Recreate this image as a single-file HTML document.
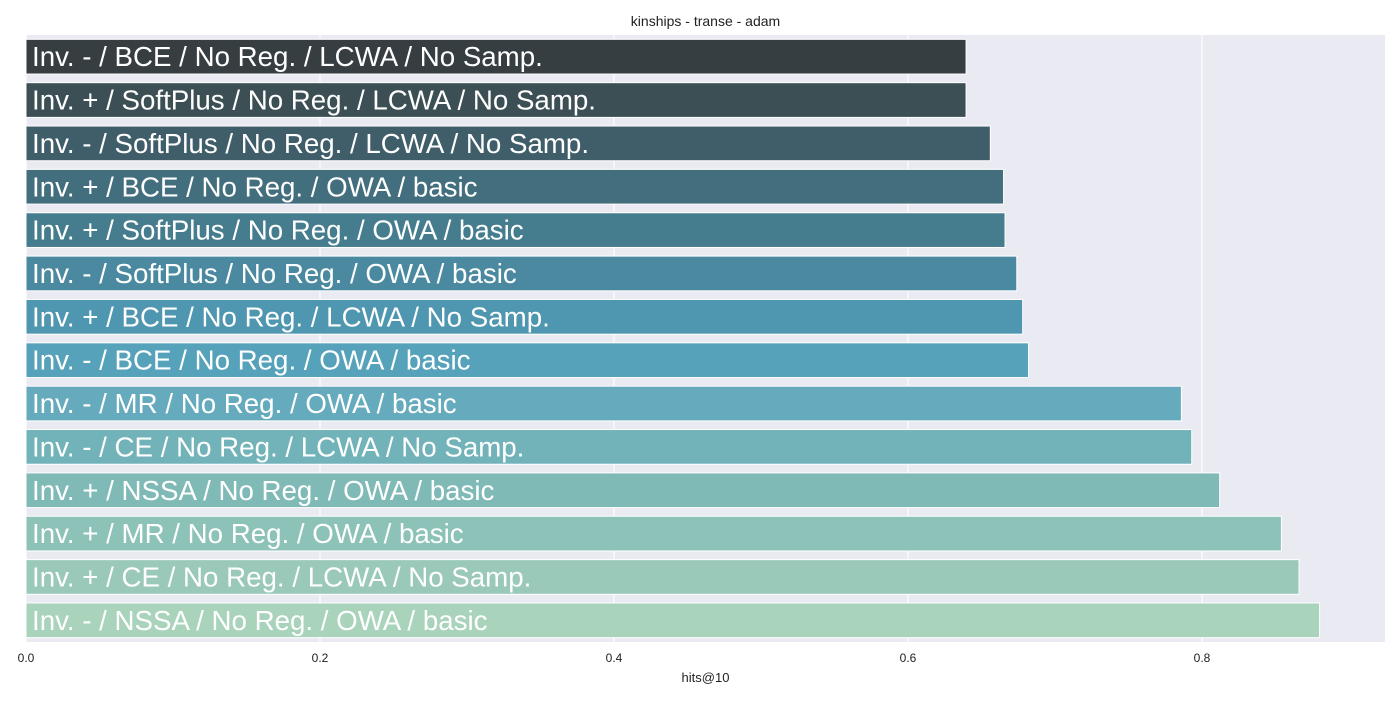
<!DOCTYPE html>
<html><head><meta charset="utf-8"><style>
body{margin:0;background:#fff;font-family:"Liberation Sans",Arial,sans-serif}
</style></head><body>
<svg id="c" width="1400" height="700" xmlns="http://www.w3.org/2000/svg"></svg>
<script>
const labels=["Inv. - / BCE / No Reg. / LCWA / No Samp.","Inv. + / SoftPlus / No Reg. / LCWA / No Samp.","Inv. - / SoftPlus / No Reg. / LCWA / No Samp.","Inv. + / BCE / No Reg. / OWA / basic","Inv. + / SoftPlus / No Reg. / OWA / basic","Inv. - / SoftPlus / No Reg. / OWA / basic","Inv. + / BCE / No Reg. / LCWA / No Samp.","Inv. - / BCE / No Reg. / OWA / basic","Inv. - / MR / No Reg. / OWA / basic","Inv. - / CE / No Reg. / LCWA / No Samp.","Inv. + / NSSA / No Reg. / OWA / basic","Inv. + / MR / No Reg. / OWA / basic","Inv. + / CE / No Reg. / LCWA / No Samp.","Inv. - / NSSA / No Reg. / OWA / basic"];
const values=[0.6395,0.6395,0.656,0.665,0.666,0.674,0.678,0.682,0.786,0.793,0.812,0.854,0.866,0.880];
const ticks=[0,0.2,0.4,0.6,0.8];
const colors=["#373e42","#3b4f55","#3f5e69","#436e7d","#467d8e","#4a89a0","#4f96b0","#56a2bb","#66abbd","#72b3b9","#80bab7","#8dc2b8","#9ac9ba","#aad3bc"];
const L=26,R=1385,T=35,B=642;
const xs=v=>L+v*1470;
const step=(B-T)/labels.length;
const svg=document.getElementById('c');
const NS="http://www.w3.org/2000/svg";
function mk(t,a){const e=document.createElementNS(NS,t);for(const k in a)e.setAttribute(k,a[k]);svg.appendChild(e);return e;}
let bg=mk('rect',{x:L,y:T,width:R-L,height:B-T,fill:'#eaeaf2'});


ticks.forEach(t=>{
 let g=mk('line',{x1:xs(t),x2:xs(t),y1:T,y2:B,stroke:'#fff','stroke-width':1.2});
 
 
 let tl=mk('text',{x:xs(t),y:662,'text-anchor':'middle','font-size':12,fill:'#222'});
 tl.textContent=t.toFixed(1);
 
 
});
labels.forEach((lab,i)=>{
 const yc=T+step*(i+0.5),h=step*0.8;
 let r=mk('rect',{x:L,y:yc-h/2,width:xs(values[i])-L,height:h,fill:colors[i],stroke:'#fff','stroke-width':1});
 
 
 let tx=mk('text',{x:32,y:yc+9.5,'font-size':27.7,fill:'#fff'});
 tx.textContent=lab;
 
 
});
let ti=mk('text',{x:(L+R)/2,y:26,'text-anchor':'middle','font-size':14,fill:'#222'});
ti.textContent="kinships - transe - adam";


let xt=mk('text',{x:(L+R)/2,y:682,'text-anchor':'middle','font-size':13,fill:'#222'});
xt.textContent="hits@10";


</script>
</body></html>
